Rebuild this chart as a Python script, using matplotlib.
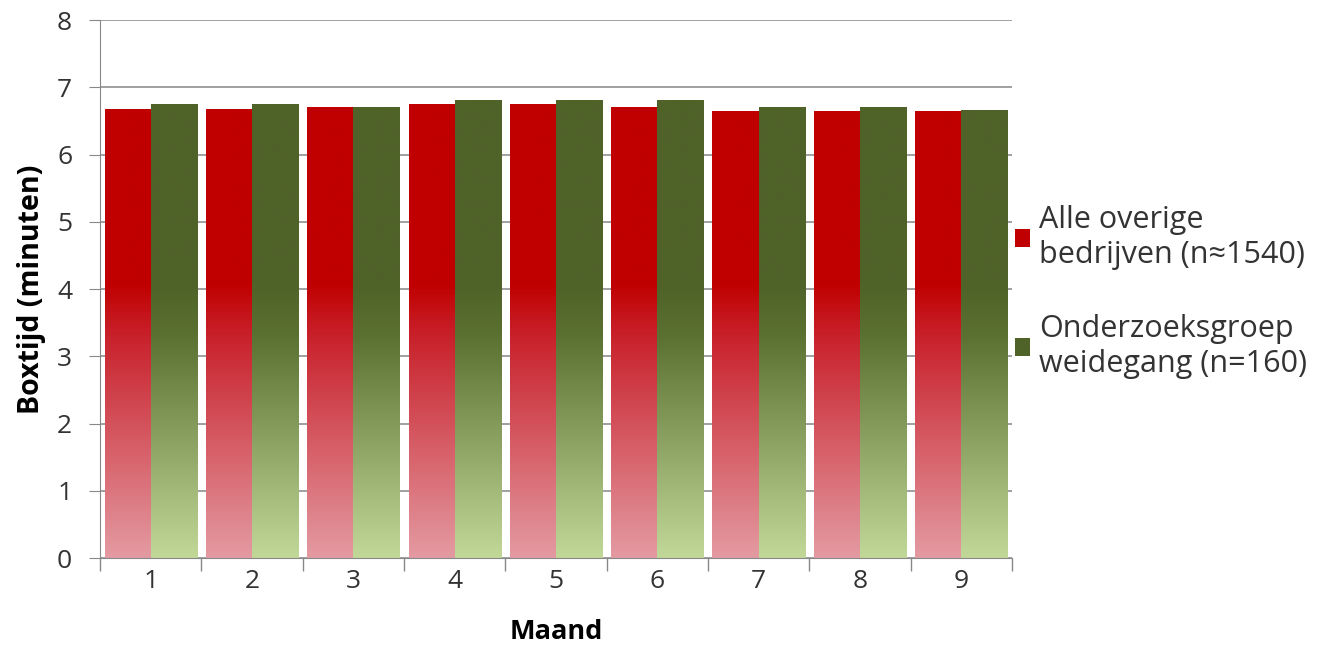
import matplotlib.pyplot as plt
import numpy as np
from matplotlib.colors import LinearSegmentedColormap
from matplotlib.patches import Patch

plt.rcParams['font.family'] = ['Open Sans', 'DejaVu Sans']

months = ['1', '2', '3', '4', '5', '6', '7', '8', '9']
overig = [6.68, 6.68, 6.71, 6.75, 6.75, 6.71, 6.65, 6.65, 6.65]
weide = [6.75, 6.75, 6.71, 6.81, 6.81, 6.81, 6.71, 6.71, 6.67]
labels = ['Alle overige\nbedrijven (n\u22481540)', 'Onderzoeksgroep\nweidegang (n=160)']

# gradients: light at bottom, solid colour from about halfway up
red_cmap = LinearSegmentedColormap.from_list('r', [(0, '#e49aa2'), (0.45, '#c8202a'), (0.55, '#c00000'), (1, '#c00000')])
green_cmap = LinearSegmentedColormap.from_list('g', [(0, '#c2d898'), (0.45, '#5a7030'), (0.55, '#4f6228'), (1, '#4f6228')])

fig = plt.figure(figsize=(13.37, 6.71), dpi=100)
ax = fig.add_axes([0.0748, 0.1684, 0.682, 0.8016])

x = np.arange(len(months))
w = 0.455
grad = np.linspace(0, 1, 256).reshape(-1, 1)

for vals, off, cmap in [(overig, -w / 2, red_cmap), (weide, w / 2, green_cmap)]:
    bars = ax.bar(x + off, vals, w, color='none', edgecolor='none', zorder=2)
    for b in bars:
        x0 = b.get_x()
        im = ax.imshow(grad, origin='lower', cmap=cmap, aspect='auto',
                       extent=[x0, x0 + b.get_width(), 0, 7.4], zorder=2)
        im.set_clip_path(b)

ax.set_xlim(-0.5, len(months) - 0.5)
ax.set_ylim(0, 8)
ax.set_yticks(range(0, 9))
ax.set_xticks(x)
ax.set_xticklabels(months)
ax.set_xticks(np.arange(-0.5, len(months)), minor=True)
ax.tick_params(axis='x', which='major', length=0, pad=8, labelsize=19, labelcolor='#333333')
ax.tick_params(axis='x', which='minor', length=9, color='#888888', width=1)
ax.tick_params(axis='y', length=8, color='#888888', labelsize=19, labelcolor='#333333', pad=12)

ax.grid(axis='y', color='#909090', linewidth=1.2, zorder=0)
ax.set_axisbelow(True)
for s in ['top', 'right']:
    ax.spines[s].set_visible(False)
ax.spines['left'].set_color('#888888')
ax.spines['bottom'].set_color('#888888')

ax.set_ylabel('Boxtijd (minuten)', fontsize=20.5, fontweight='bold', labelpad=8)
ax.set_xlabel('Maand', fontsize=19.5, fontweight='bold', labelpad=18)

handles = [Patch(facecolor='#c00000'), Patch(facecolor='#4f6228')]
fig.legend(handles, labels, loc='center left', bbox_to_anchor=(0.759, 0.565), frameon=False,
           fontsize=22, handlelength=0.5, handleheight=0.5, handletextpad=0.3,
           labelspacing=1.45, labelcolor='#333333', borderaxespad=0, borderpad=0)

fig.savefig('out.png', dpi=100)
